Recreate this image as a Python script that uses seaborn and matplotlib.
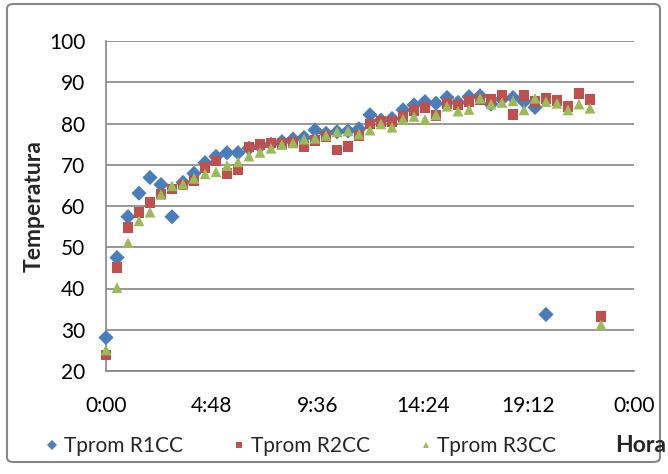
import pandas as pd
import numpy as np
import matplotlib.pyplot as plt
import seaborn as sns
from matplotlib.patches import FancyBboxPatch

# ---- DATOS ----
hora_r1 = [0, 0.5, 1, 1.5, 2, 2.5, 3, 3.5, 4, 4.5, 5, 5.5, 6, 6.5, 7, 7.5, 8, 8.5, 9, 9.5,
           10, 10.5, 11, 11.5, 12, 12.5, 13, 13.5, 14, 14.5, 15, 15.5, 16, 16.5, 17, 17.5,
           18, 18.5, 19, 19.5, 20]
hora_r23 = hora_r1 + [20.5, 21, 21.5, 22, 22.5]

tprom_r1 = [28.1, 47.5, 57.4, 63.1, 66.9, 65.2, 57.4, 65.7, 67.9, 70.5, 72.0, 72.9, 72.9,
            74.0, 74.5, 75.0, 75.6, 76.2, 76.6, 78.4, 77.6, 78.0, 78.2, 78.7, 82.1, 80.8,
            81.2, 83.3, 84.5, 85.3, 84.9, 86.3, 85.1, 86.5, 86.7, 84.7, 85.9, 86.3, 85.3,
            83.9, 33.7]
tprom_r2 = [23.9, 45.1, 54.8, 58.5, 60.9, 62.9, 64.1, 65.1, 66.1, 69.3, 70.9, 67.9, 68.9,
            74.3, 74.9, 75.3, 75.2, 75.4, 74.4, 75.8, 76.8, 73.6, 74.5, 77.1, 79.9, 80.4,
            80.4, 81.7, 83.1, 83.8, 81.9, 84.9, 84.5, 85.3, 85.9, 85.9, 86.7, 82.1, 86.7,
            85.3, 86.1, 85.5, 84.2, 87.3, 85.9, 33.2]
tprom_r3 = [25.1, 40.2, 51.1, 56.4, 58.5, 62.8, 64.9, 65.3, 66.7, 67.8, 68.3, 69.8, 70.7,
            72.1, 73.0, 74.0, 74.9, 75.3, 76.2, 76.4, 77.1, 78.0, 78.2, 77.4, 78.4, 79.9,
            79.1, 81.1, 81.7, 81.0, 82.1, 84.2, 83.0, 83.4, 86.1, 84.7, 85.1, 85.5, 83.3,
            86.1, 85.3, 84.9, 83.3, 84.7, 83.7, 31.2]

series = ["Tprom R1CC", "Tprom R2CC", "Tprom R3CC"]
colores = ["#4A7EBB", "#C0504D", "#9BBB59"]
marcadores = ["D", "s", "^"]
xticks_lbl = ["0:00", "4:48", "9:36", "14:24", "19:12", "0:00"]

df = pd.concat([
    pd.DataFrame({"Hora": hora_r1, "Temperatura": tprom_r1, "Serie": series[0]}),
    pd.DataFrame({"Hora": hora_r23, "Temperatura": tprom_r2, "Serie": series[1]}),
    pd.DataFrame({"Hora": hora_r23, "Temperatura": tprom_r3, "Serie": series[2]}),
], ignore_index=True)

# ---- GRAFICO ----
sns.set_style("white")
plt.rcParams["font.family"] = ["Lato", "DejaVu Sans"]
gris = "#868686"

fig = plt.figure(figsize=(6.68, 4.74), dpi=100)
ax = fig.add_axes([106 / 668, 1 - 371 / 474, 528 / 668, 330 / 474])

sns.scatterplot(data=df, x="Hora", y="Temperatura", hue="Serie", style="Serie",
                palette=colores, markers=marcadores, hue_order=series, style_order=series,
                s=60, linewidth=0, ax=ax, legend=True, zorder=3, clip_on=False)

ax.set_xlim(0, 24)
ax.set_ylim(20, 100)
ax.set_xticks([0, 4.8, 9.6, 14.4, 19.2, 24])
ax.set_xticklabels(xticks_lbl)
ax.set_yticks(range(20, 101, 10))
ax.yaxis.grid(True, color=gris, linewidth=1.2)
ax.set_axisbelow(True)
for lado in ["top", "right"]:
    ax.spines[lado].set_visible(False)
for lado in ["left", "bottom"]:
    ax.spines[lado].set_color(gris)
    ax.spines[lado].set_linewidth(1.2)
ax.tick_params(axis="y", length=6, width=1.2, color=gris, pad=9, labelsize=15, labelcolor="black")
ax.tick_params(axis="x", length=5, width=1.2, color=gris, pad=13, labelsize=15, labelcolor="black")
ax.set_xlabel("")
ax.set_ylabel("Temperatura", fontsize=16.5, fontweight="bold", labelpad=3)

handles, labels = ax.get_legend_handles_labels()
ax.get_legend().remove()
fig.legend(handles, labels, loc="center", bbox_to_anchor=(0.451, 1 - 446 / 474), ncol=3,
           frameon=False, fontsize=15, markerscale=0.6, handlelength=0.6,
           handletextpad=0.25, columnspacing=2.4)
fig.text(641 / 668, 1 - 446 / 474, "Hora", fontsize=16.5, fontweight="bold", ha="center", va="center")

borde = FancyBboxPatch((7 / 668, 12 / 474), 653 / 668, 458 / 474, transform=fig.transFigure,
                       boxstyle="round,pad=0,rounding_size=0.01", fill=False,
                       edgecolor=gris, linewidth=1.5)
fig.patches.append(borde)

fig.savefig("out.png", dpi=100)
plt.close(fig)
